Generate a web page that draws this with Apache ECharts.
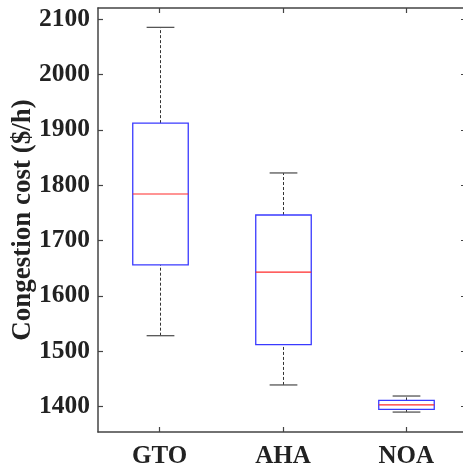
<!DOCTYPE html>
<html><head><meta charset="utf-8">
<script src="https://cdn.jsdelivr.net/npm/echarts@6/dist/echarts.min.js"></script>
<style>html,body{margin:0;padding:0;background:#fff}#c{width:463px;height:468px}</style>
</head><body><div id="c"></div>
<script>
const categories = ['GTO', 'AHA', 'NOA'];
const lowerWhisker = [1528, 1439, 1390];
const q1 = [1656, 1512, 1395];
const median = [1784, 1643, 1403];
const q3 = [1912, 1746, 1411];
const upperWhisker = [2085, 1822, 1419];
const yTicks = [1400, 1500, 1600, 1700, 1800, 1900, 2000, 2100];
const yMin = 1354, yMax = 2120;

const data = categories.map((c, i) => [i, lowerWhisker[i], q1[i], median[i], q3[i], upperWhisker[i]]);
const font = 'Liberation Serif';
const axisColor = '#444';

function renderItem(params, api) {
  const x = api.value(0);
  const pLW = api.coord([x, api.value(1)]);
  const pQ1 = api.coord([x, api.value(2)]);
  const pMed = api.coord([x, api.value(3)]);
  const pQ3 = api.coord([x, api.value(4)]);
  const pUW = api.coord([x, api.value(5)]);
  const bw = api.size([1, 0])[0] * 0.45;
  const cx = Math.round(pMed[0]) + 0.5;
  const half = bw / 2, capHalf = bw / 4;
  const dash = {stroke: '#333', lineWidth: 1, lineDash: [3, 2]};
  const cap = {stroke: '#555', lineWidth: 1.3};
  return {
    type: 'group',
    children: [
      {type: 'line', shape: {x1: cx, y1: pQ3[1], x2: cx, y2: pUW[1]}, style: dash},
      {type: 'line', shape: {x1: cx, y1: pLW[1], x2: cx, y2: pQ1[1]}, style: dash},
      {type: 'line', shape: {x1: cx - capHalf, y1: pUW[1], x2: cx + capHalf, y2: pUW[1]}, style: cap},
      {type: 'line', shape: {x1: cx - capHalf, y1: pLW[1], x2: cx + capHalf, y2: pLW[1]}, style: cap},
      {type: 'rect', shape: {x: cx - half, y: pQ3[1], width: bw, height: pQ1[1] - pQ3[1]},
        style: {fill: null, stroke: '#3a3aff', lineWidth: 1.3}},
      {type: 'line', shape: {x1: cx - half, y1: pMed[1], x2: cx + half, y2: pMed[1]},
        style: {stroke: '#ff2a2a', lineWidth: 1.2}}
    ]
  };
}

const chart = echarts.init(document.getElementById('c'), null, {renderer: 'canvas'});
chart.setOption({
  animation: false,
  backgroundColor: '#fff',
  grid: {left: 98, top: 8, width: 370, height: 424, outerBoundsMode: 'none', containLabel: false},
  xAxis: [{
    type: 'category', data: categories, position: 'bottom',
    axisLine: {show: true, lineStyle: {color: axisColor, width: 1.5}},
    axisTick: {show: true, inside: true, alignWithLabel: true, length: 5, lineStyle: {color: axisColor, width: 1.2}},
    axisLabel: {color: '#222', fontFamily: font, fontWeight: 'bold', fontSize: 25, margin: 12},
    splitLine: {show: false}
  }, {
    type: 'category', data: categories, position: 'top',
    axisLine: {show: true, lineStyle: {color: axisColor, width: 1.5}},
    axisTick: {show: true, inside: true, alignWithLabel: true, length: 5, lineStyle: {color: axisColor, width: 1.2}},
    axisLabel: {show: false},
    splitLine: {show: false}
  }],
  yAxis: [{
    type: 'value', min: yMin, max: yMax, position: 'left',
    name: 'Congestion cost ($/h)', nameLocation: 'middle', nameGap: 61, nameRotate: 90,
    nameMoveOverlap: false,
    nameTextStyle: {color: '#222', fontFamily: font, fontWeight: 'bold', fontSize: 27},
    axisLine: {show: true, lineStyle: {color: axisColor, width: 1.5}},
    axisTick: {show: true, inside: true, length: 5, customValues: yTicks, lineStyle: {color: axisColor, width: 1.2}},
    axisLabel: {color: '#222', fontFamily: font, fontWeight: 'bold', fontSize: 25.5, margin: 8, customValues: yTicks,
      formatter: v => String(v)},
    splitLine: {show: false}
  }, {
    type: 'value', min: yMin, max: yMax, position: 'right',
    axisLine: {show: true, lineStyle: {color: axisColor, width: 1.5}},
    axisTick: {show: true, inside: true, length: 7, customValues: yTicks, lineStyle: {color: axisColor, width: 1.2}},
    axisLabel: {show: false},
    splitLine: {show: false}
  }],
  series: [{
    type: 'custom',
    renderItem: renderItem,
    encode: {x: 0, y: [1, 2, 3, 4, 5]},
    data: data,
    clip: false
  }]
});
</script>
</body></html>
